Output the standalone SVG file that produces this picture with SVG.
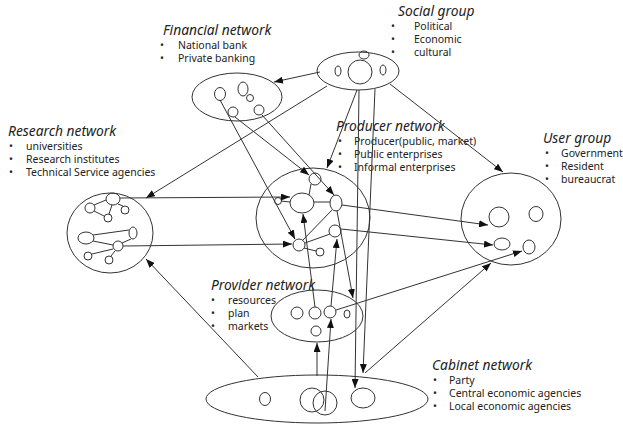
<svg xmlns="http://www.w3.org/2000/svg" width="623" height="426" viewBox="0 0 623 426">
<defs>
<marker id="arr" markerUnits="userSpaceOnUse" markerWidth="9" markerHeight="7" refX="9" refY="3.5" orient="auto">
<path d="M0,0 L9,3.5 L0,7 z" fill="#111"/>
</marker>
<style>
.n{fill:none;stroke:#333;stroke-width:1}
.c{fill:none;stroke:#333;stroke-width:1}
.a{fill:none;stroke:#333;stroke-width:1;marker-end:url(#arr)}
.t{font-family:"Noto Sans","Open Sans",sans-serif;font-size:13.8px;font-style:italic;fill:#222}
.l{font-family:"Noto Sans","Open Sans",sans-serif;font-size:10.5px;fill:#222}
</style>
</defs>
<rect width="623" height="426" fill="#fff"/>

<g id="social">
<ellipse class="n" cx="358" cy="71" rx="41" ry="19"/>
<ellipse class="n" cx="364" cy="55" rx="5" ry="4"/>
<circle class="n" cx="360" cy="72" r="12"/>
<ellipse class="n" cx="338" cy="71" rx="3" ry="5"/>
<ellipse class="n" cx="383" cy="70" rx="3" ry="5"/>
<text class="t" x="398" y="16">Social group</text>
<text class="l" x="391" y="30">•</text><text class="l" x="414" y="30">Political</text>
<text class="l" x="391" y="43">•</text><text class="l" x="414" y="43">Economic</text>
<text class="l" x="391" y="56">•</text><text class="l" x="414" y="56">cultural</text>
</g>

<g id="financial">
<ellipse class="n" cx="237" cy="97" rx="45" ry="24"/>
<ellipse class="n" cx="220" cy="94" rx="5.5" ry="6.5"/>
<ellipse class="n" cx="243" cy="89" rx="5" ry="7"/>
<circle class="n" cx="250" cy="98" r="3.5"/>
<circle class="n" cx="233" cy="112" r="5"/>
<circle class="n" cx="259" cy="110" r="5"/>
<text class="t" x="163" y="35">Financial network</text>
<text class="l" x="160" y="49">•</text><text class="l" x="178" y="49">National bank</text>
<text class="l" x="160" y="62">•</text><text class="l" x="178" y="62">Private banking</text>
</g>

<g id="research">
<ellipse class="n" cx="110" cy="233" rx="43" ry="40"/>
<ellipse class="n" cx="113" cy="199" rx="7" ry="6"/>
<circle class="n" cx="90" cy="208" r="5"/>
<circle class="n" cx="125" cy="210" r="4"/>
<circle class="n" cx="108" cy="218" r="4"/>
<line class="c" x1="94" y1="205" x2="106" y2="200"/>
<line class="c" x1="94" y1="211" x2="104" y2="216"/>
<line class="c" x1="112" y1="205" x2="109" y2="214"/>
<line class="c" x1="118" y1="204" x2="123" y2="206"/>
<ellipse class="n" cx="86" cy="238" rx="8" ry="6"/>
<ellipse class="n" cx="133" cy="233" rx="4" ry="6"/>
<circle class="n" cx="118" cy="246" r="5"/>
<circle class="n" cx="88" cy="256" r="4"/>
<circle class="n" cx="109" cy="260" r="4"/>
<line class="c" x1="93" y1="235" x2="129" y2="230"/>
<line class="c" x1="93" y1="241" x2="113" y2="245"/>
<line class="c" x1="131" y1="239" x2="122" y2="243"/>
<line class="c" x1="113" y1="249" x2="92" y2="254"/>
<line class="c" x1="115" y1="251" x2="111" y2="256"/>
<text class="t" x="8" y="136">Research network</text>
<text class="l" x="9" y="150">•</text><text class="l" x="26" y="150">universities</text>
<text class="l" x="9" y="163">•</text><text class="l" x="26" y="163">Research institutes</text>
<text class="l" x="9" y="176">•</text><text class="l" x="26" y="176">Technical Service agencies</text>
</g>

<g id="producer">
<ellipse class="n" cx="313" cy="218" rx="57" ry="50"/>
<circle class="n" cx="315" cy="179" r="6"/>
<ellipse class="n" cx="302" cy="203" rx="12" ry="10"/>
<circle class="n" cx="278" cy="201" r="3.5"/>
<ellipse class="n" cx="336" cy="203" rx="6" ry="8"/>
<ellipse class="n" cx="335" cy="231" rx="6" ry="6"/>
<circle class="n" cx="299" cy="245" r="6"/>
<circle class="n" cx="320" cy="252" r="4"/>
<line class="c" x1="281" y1="201" x2="290" y2="202"/>
<line class="c" x1="309" y1="195" x2="311" y2="184"/>
<line class="c" x1="314" y1="202" x2="330" y2="202"/>
<line class="c" x1="303" y1="240" x2="332" y2="210"/>
<line class="c" x1="305" y1="243" x2="330" y2="234"/>
<line class="c" x1="304" y1="248" x2="316" y2="251"/>
<text class="t" x="336" y="131">Producer network</text>
<text class="l" x="338" y="145">•</text><text class="l" x="354" y="145">Producer(public, market)</text>
<text class="l" x="338" y="158">•</text><text class="l" x="354" y="158">Public enterprises</text>
<text class="l" x="338" y="171">•</text><text class="l" x="354" y="171">Informal enterprises</text>
</g>

<g id="user">
<ellipse class="n" cx="511" cy="219" rx="50" ry="46"/>
<circle class="n" cx="499" cy="217" r="10"/>
<ellipse class="n" cx="536" cy="214" rx="7" ry="7.5"/>
<ellipse class="n" cx="502" cy="244" rx="8" ry="6"/>
<ellipse class="n" cx="529" cy="247" rx="6" ry="7"/>
<text class="t" x="543" y="143">User group</text>
<text class="l" x="545" y="157">•</text><text class="l" x="561" y="157">Government</text>
<text class="l" x="545" y="170">•</text><text class="l" x="561" y="170">Resident</text>
<text class="l" x="545" y="183">•</text><text class="l" x="561" y="183">bureaucrat</text>
</g>

<g id="provider">
<ellipse class="n" cx="317" cy="316" rx="46" ry="26"/>
<circle class="n" cx="297" cy="313" r="6"/>
<circle class="n" cx="315" cy="313" r="6"/>
<circle class="n" cx="330" cy="312" r="6"/>
<ellipse class="n" cx="347" cy="314" rx="3" ry="4"/>
<circle class="n" cx="316" cy="331" r="5"/>
<text class="t" x="211" y="290">Provider network</text>
<text class="l" x="211" y="304">•</text><text class="l" x="228" y="304">resources</text>
<text class="l" x="211" y="317">•</text><text class="l" x="228" y="317">plan</text>
<text class="l" x="211" y="330">•</text><text class="l" x="228" y="330">markets</text>
</g>

<g id="cabinet">
<ellipse class="n" cx="317" cy="399" rx="111" ry="24"/>
<ellipse class="n" cx="265" cy="399" rx="5.5" ry="6.5"/>
<circle class="n" cx="312" cy="400" r="12"/>
<circle class="n" cx="325" cy="403" r="12"/>
<ellipse class="n" cx="363" cy="398" rx="12" ry="10"/>
<text class="t" x="432" y="370">Cabinet network</text>
<text class="l" x="433" y="384">•</text><text class="l" x="449" y="384">Party</text>
<text class="l" x="433" y="397">•</text><text class="l" x="449" y="397">Central economic agencies</text>
<text class="l" x="433" y="410">•</text><text class="l" x="449" y="410">Local economic agencies</text>
</g>

<g id="connectors">
<line class="a" x1="320" y1="72" x2="274" y2="82"/>
<line class="a" x1="327" y1="86" x2="146" y2="198"/>
<line class="a" x1="357" y1="90" x2="327" y2="168"/>
<line class="a" x1="390" y1="84" x2="503" y2="172"/>
<line class="a" x1="359" y1="90" x2="355" y2="388"/>
<line class="a" x1="375" y1="89" x2="363" y2="373"/>
<line class="a" x1="220" y1="100" x2="295" y2="239"/>
<line class="a" x1="235" y1="117" x2="309" y2="175"/>
<line class="a" x1="262" y1="115" x2="334" y2="195"/>
<line class="a" x1="120" y1="198" x2="290" y2="197"/>
<line class="a" x1="123" y1="246" x2="292" y2="244"/>
<line class="a" x1="342" y1="205" x2="488" y2="225"/>
<line class="a" x1="341" y1="229" x2="493" y2="245"/>
<line class="a" x1="337" y1="211" x2="353" y2="298"/>
<line class="a" x1="315" y1="307" x2="303" y2="214"/>
<line class="a" x1="331" y1="306" x2="337" y2="239"/>
<line class="a" x1="336" y1="310" x2="522" y2="251"/>
<line class="a" x1="258" y1="377" x2="146" y2="259"/>
<line class="a" x1="317" y1="376" x2="317" y2="343"/>
<line class="a" x1="325" y1="411" x2="331" y2="319"/>
<line class="a" x1="365" y1="373" x2="491" y2="263"/>
</g>
</svg>
